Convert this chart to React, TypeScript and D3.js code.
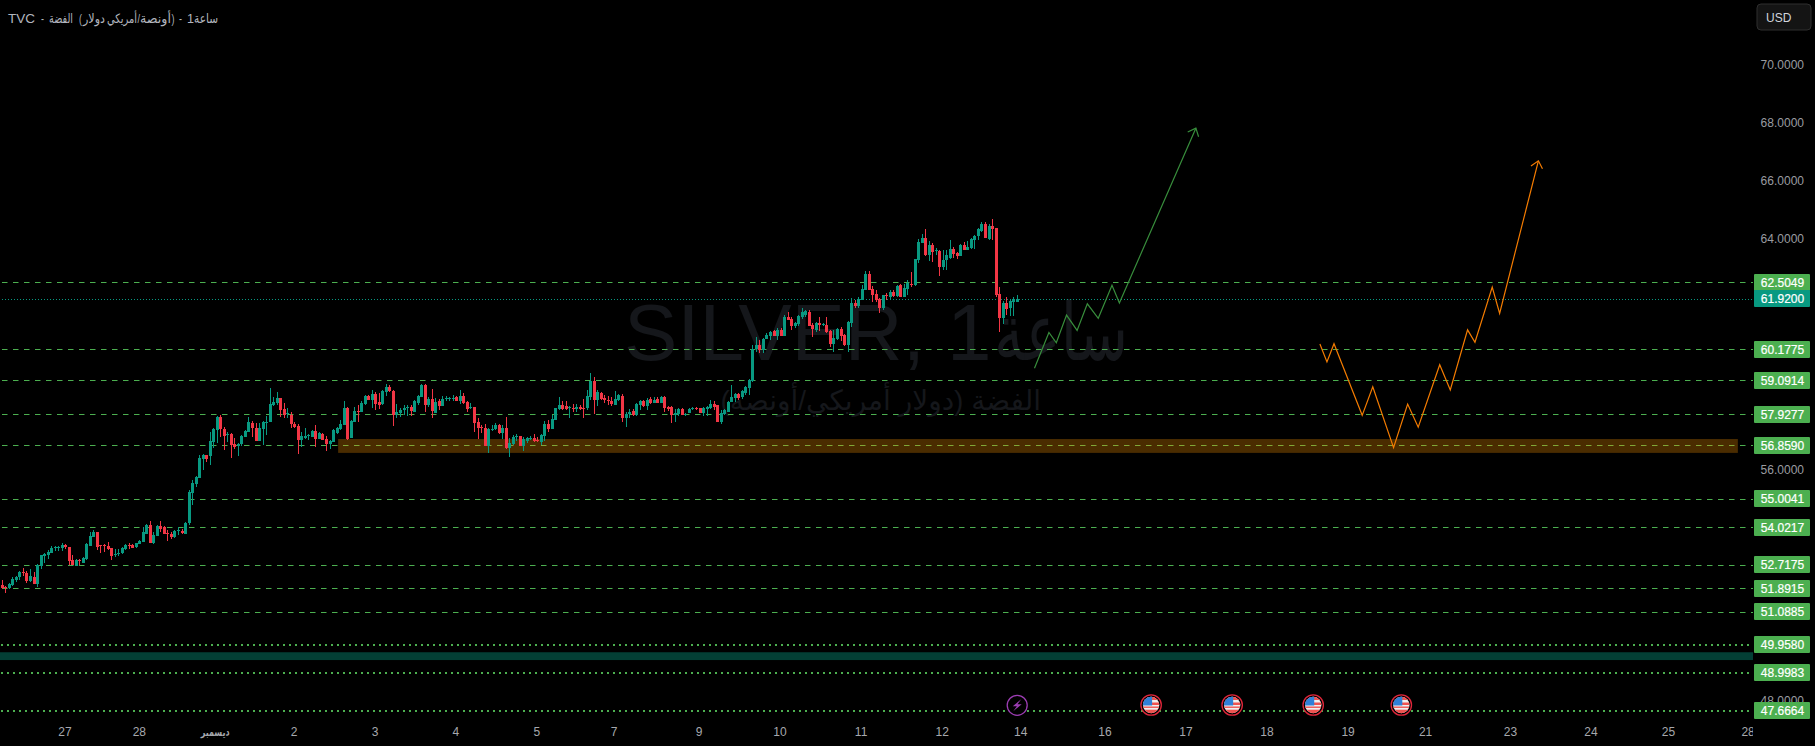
import React from "react";
import * as d3 from "d3";

const opens = [
52.03,51.96,51.91,52.03,52.19,52.30,52.48,52.44,52.16,52.30,
52.06,52.68,53.03,53.06,53.13,53.34,53.34,53.31,53.41,53.34,
52.89,52.69,52.90,52.79,52.93,53.38,53.69,53.86,53.40,53.40,
53.38,53.31,53.09,53.11,53.13,53.27,53.41,53.41,53.34,53.46,
53.51,53.79,54.10,53.48,53.72,54.07,54.03,53.83,53.81,53.69,
53.91,53.89,53.79,54.17,55.21,55.52,55.73,56.39,56.53,56.49,
56.98,57.39,57.84,57.43,57.24,57.25,56.91,56.84,56.91,57.15,
57.32,57.63,57.46,57.01,57.43,57.66,57.67,58.26,58.33,58.50,
58.12,57.94,57.92,57.60,57.53,57.05,57.11,57.19,57.15,57.36,
57.08,57.26,57.08,56.91,56.98,57.29,57.43,57.57,58.16,57.12,
57.67,58.05,58.02,58.30,58.57,58.43,58.64,58.37,58.30,58.71,
58.88,58.75,57.92,57.98,58.07,58.16,58.19,58.02,58.33,58.54,
58.95,58.26,58.47,57.98,58.40,58.22,58.48,58.48,58.49,58.54,
58.40,58.57,58.37,58.17,58.19,57.67,57.50,57.47,56.84,57.42,
57.43,57.57,57.29,57.47,56.77,56.91,57.16,57.18,56.84,57.02,
57.09,57.13,57.06,56.98,57.19,57.60,57.43,57.74,58.12,58.26,
58.23,58.18,58.15,58.12,58.19,58.17,58.16,58.54,59.09,58.43,
58.67,58.50,58.43,58.40,58.26,58.43,58.57,57.81,57.94,58.05,
57.92,58.26,58.40,58.23,58.46,58.33,58.45,58.33,58.54,58.18,
58.19,57.92,57.94,58.12,57.94,57.98,58.13,58.15,58.16,57.97,
58.13,58.16,58.30,58.26,57.67,57.95,58.02,58.36,58.50,58.64,
58.54,58.67,58.85,59.08,60.18,60.33,60.16,60.53,60.64,60.81,
60.66,60.85,60.64,61.31,61.23,60.99,61.06,61.29,61.37,61.47,
61.02,60.85,61.11,61.05,61.02,60.81,60.36,60.54,60.88,60.68,
60.33,61.09,61.78,61.68,61.89,62.23,62.79,62.27,62.10,61.92,
61.61,62.07,61.99,62.16,62.03,62.41,62.00,62.27,62.46,62.41,
63.27,63.86,64.03,63.45,63.79,63.60,63.58,63.03,63.27,63.34,
63.66,63.53,63.41,63.79,63.62,63.69,63.97,64.10,64.28,64.52,
64.00,64.45,64.38,62.10,61.26,61.78,61.61,61.83,61.82,
];
const closes = [
51.91,51.93,52.06,52.22,52.30,52.48,52.44,52.16,52.34,52.06,
52.72,53.06,53.10,53.17,53.31,53.35,53.35,53.41,53.34,52.86,
52.72,52.90,52.88,52.96,53.44,53.72,53.86,53.34,53.38,53.38,
53.28,53.03,53.10,53.13,53.31,53.41,53.38,53.31,53.47,53.55,
53.86,54.10,53.48,53.76,54.07,53.96,53.79,53.79,53.69,53.89,
53.92,53.83,54.17,55.24,55.56,55.76,56.42,56.53,56.39,57.01,
57.43,57.84,57.43,57.18,57.25,56.87,56.80,56.91,57.18,57.36,
57.67,57.46,57.01,57.46,57.67,57.67,58.29,58.37,58.50,58.09,
57.92,57.98,57.60,57.50,57.05,57.17,57.19,57.22,57.36,57.08,
57.29,57.05,56.91,57.02,57.40,57.47,57.60,58.16,57.08,57.71,
58.05,58.02,58.33,58.57,58.43,58.64,58.30,58.26,58.75,58.88,
58.75,57.92,58.02,58.09,58.16,58.19,58.05,58.40,58.57,58.95,
58.26,58.47,58.05,58.37,58.22,58.47,58.49,58.49,58.51,58.40,
58.57,58.33,58.12,58.19,57.64,57.47,57.45,56.84,57.43,57.43,
57.57,57.29,57.47,56.77,56.95,57.14,57.19,56.84,57.09,57.11,
57.11,57.02,57.04,57.22,57.60,57.43,57.78,58.16,58.26,58.12,
58.12,58.19,58.12,58.19,58.12,58.15,58.57,59.09,58.43,58.71,
58.47,58.43,58.40,58.30,58.47,58.61,57.81,57.95,58.02,57.92,
58.30,58.40,58.23,58.43,58.33,58.43,58.33,58.54,58.16,58.12,
57.92,57.98,58.11,57.92,57.96,58.12,58.15,58.13,57.97,58.16,
58.19,58.30,58.19,57.67,57.98,58.09,58.36,58.54,58.64,58.50,
58.74,58.88,59.12,60.21,60.33,60.16,60.53,60.68,60.78,60.64,
60.85,60.64,61.31,61.20,60.99,61.09,61.33,61.48,61.51,60.99,
60.88,61.11,61.02,61.07,60.78,60.36,60.57,60.88,60.64,60.33,
61.13,61.78,61.68,61.92,62.27,62.79,62.23,62.06,61.89,61.61,
62.06,62.04,62.16,62.03,62.37,61.99,62.31,62.48,62.44,63.31,
63.90,64.03,63.45,63.79,63.55,63.62,63.03,63.27,63.45,63.65,
63.48,63.43,63.79,63.62,63.72,64.00,64.10,64.35,64.52,64.03,
64.45,64.35,62.06,61.26,61.78,61.58,61.85,61.92,61.92,
];
const highs = [
52.20,51.99,52.08,52.31,52.34,52.52,52.60,52.52,52.58,52.48,
52.75,53.06,53.12,53.24,53.38,53.39,53.39,53.47,53.44,53.35,
53.06,52.93,52.94,52.98,53.47,53.86,53.93,53.86,53.42,53.43,
53.51,53.31,53.29,53.27,53.33,53.44,53.48,53.43,53.49,53.58,
54.03,54.14,54.24,53.87,54.10,54.24,54.07,53.93,53.85,53.92,
54.02,53.95,54.21,55.31,55.66,55.80,56.53,56.56,56.53,57.32,
57.45,57.88,57.91,57.50,57.32,57.28,57.11,56.94,57.22,57.39,
57.83,57.70,57.63,57.63,57.70,57.88,58.83,58.54,58.70,58.50,
58.33,58.15,58.01,57.67,57.59,57.33,57.47,57.26,57.40,57.57,
57.33,57.29,57.17,57.05,57.43,57.50,57.74,58.40,58.20,57.74,
58.19,58.26,58.40,58.61,58.61,58.78,58.70,58.67,58.78,58.98,
58.95,58.78,58.30,58.15,58.26,58.26,58.26,58.43,58.61,58.98,
58.99,58.54,58.81,58.49,58.47,58.57,58.57,58.54,58.61,58.57,
58.78,58.67,58.40,58.33,58.19,57.81,57.57,57.59,57.45,57.57,
57.64,57.60,57.57,57.85,57.10,57.22,57.26,57.18,57.14,57.16,
57.19,57.26,57.14,57.26,57.72,57.74,57.92,58.17,58.54,58.40,
58.38,58.23,58.30,58.30,58.26,58.47,58.78,59.36,59.23,58.78,
58.71,58.61,58.57,58.54,58.75,58.64,58.64,58.02,58.12,58.12,
58.32,58.43,58.43,58.50,58.54,58.54,58.54,58.57,58.57,58.23,
58.23,58.13,58.16,58.16,57.99,58.16,58.19,58.19,58.16,58.19,
58.23,58.43,58.40,58.26,58.09,58.12,58.40,58.95,58.67,58.67,
58.78,58.92,59.16,60.33,60.60,60.50,60.56,60.76,60.81,60.85,
60.91,60.93,61.37,61.48,61.31,61.14,61.37,61.63,61.54,61.54,
61.10,61.14,61.29,61.11,61.29,60.85,60.85,60.93,60.96,60.71,
61.17,61.95,61.89,62.00,62.41,62.89,62.89,62.37,62.23,61.96,
62.08,62.12,62.23,62.23,62.41,62.46,62.46,62.58,62.86,63.31,
64.00,64.17,64.35,63.93,63.85,63.69,63.62,63.62,63.62,63.97,
63.71,63.57,63.83,63.89,63.93,64.03,64.14,64.38,64.59,64.59,
64.52,64.69,64.38,62.33,61.85,62.01,61.89,62.00,62.06,
];
const lows = [
51.88,51.76,51.88,51.99,52.14,52.20,52.34,52.11,52.14,52.06,
51.97,52.58,52.78,52.93,53.12,53.20,53.20,53.20,53.27,52.71,
52.71,52.68,52.71,52.78,52.91,53.38,53.69,53.24,53.13,53.17,
53.24,52.89,52.99,53.03,53.10,53.24,53.27,53.31,53.31,53.44,
53.51,53.79,53.47,53.44,53.72,53.86,53.79,53.55,53.61,53.65,
53.76,53.79,53.79,54.10,54.79,55.43,55.73,56.01,56.28,56.18,
56.77,56.94,57.15,56.70,56.98,56.42,56.73,56.49,56.84,57.15,
57.32,57.15,57.01,57.01,56.87,57.22,57.67,58.24,58.26,57.85,
57.80,57.80,57.47,57.47,56.57,56.81,57.07,57.04,57.15,56.81,
57.08,57.05,56.67,56.74,56.98,57.26,57.40,57.57,57.05,57.11,
57.67,57.67,58.02,58.26,58.43,58.17,58.09,58.12,58.26,58.57,
58.71,57.53,57.81,57.85,57.92,57.89,57.89,58.02,58.26,58.54,
58.02,58.19,57.81,57.98,58.09,58.22,58.40,58.40,58.40,58.39,
58.30,58.30,58.02,58.12,57.33,57.08,57.29,56.84,56.60,57.36,
57.40,57.26,57.08,56.73,56.46,56.88,57.02,56.84,56.67,56.93,
57.03,56.97,56.97,56.88,57.02,57.34,57.43,57.74,58.09,58.09,
58.09,57.81,58.03,58.03,58.07,57.81,58.09,58.43,57.94,58.23,
58.43,58.32,58.26,58.23,58.26,58.40,57.67,57.50,57.81,57.88,
57.88,58.09,58.19,58.09,58.30,58.33,58.33,58.33,58.02,58.05,
57.64,57.67,57.88,57.92,57.88,57.98,58.09,58.07,57.97,57.88,
57.88,58.13,58.09,57.67,57.60,57.92,58.02,58.36,58.36,58.43,
58.48,58.61,58.61,59.06,60.10,60.06,60.06,60.53,60.50,60.64,
60.50,60.64,60.64,61.20,60.87,60.94,60.99,61.25,61.29,60.99,
60.62,60.79,60.83,60.99,60.76,60.27,60.10,60.50,60.48,60.30,
60.10,60.96,61.62,61.63,61.89,62.23,62.23,61.83,61.83,61.45,
61.54,61.89,61.93,61.98,61.98,61.99,61.99,62.06,62.33,62.37,
63.16,63.86,63.41,63.24,63.20,63.45,62.72,62.93,62.93,63.31,
63.34,63.30,63.41,63.62,63.62,63.65,63.65,63.97,64.24,64.03,
63.97,63.97,62.00,60.78,61.06,61.37,61.34,61.34,61.82,
];

const priceTicks = [70, 68, 66, 64, 56, 48];
const dashedLevels = [62.5049, 60.1775, 59.0914, 57.9277, 56.859, 55.0041, 54.0217, 52.7175, 51.8915, 51.0885];
const dottedLevels = [49.958, 48.9983, 47.6664];
const lastPrice = 61.92;

const timeTickBars = [17.8, 38.9, 60.4, 82.8, 105.8, 128.7, 151.7, 173.6, 197.7, 220.7, 243.7, 266.7, 289, 312.9, 335.9, 358.9, 381.9, 403.9, 428, 450.8, 472.8, 495.4];
const timeTickLabels = ["27", "28", "ديسمبر", "2", "3", "4", "5", "7", "9", "10", "11", "12", "14", "16", "17", "18", "19", "21", "23", "24", "25", "28"];

const titleWords = ["TVC", "-", "الفضة", "(", "دولار", "أمريكي", "/", "أونصة", ")", "-", "1", "ساعة"];
const titleStarts = [8, 41, 49, 79, 83, 107, 137.5, 140, 171.5, 179, 187, 194];
const titleWidths = [27, 3, 24, 3, 22, 30, 2.5, 31, 3, 3, 7, 24];

const greenPathBars = [292.9, 297, 299.1, 302, 305, 307.9, 311, 314.9, 317, 338.7];
const greenPathPrices = [59.53, 60.77, 60.41, 61.37, 60.84, 61.76, 61.26, 62.4, 61.79, 67.84];
const orangePathBars = [373.9, 375.9, 377.9, 385.9, 388.9, 394.8, 398.8, 401.8, 407.9, 410.9, 415.8, 417.9, 422.8, 424.9, 435.9];
const orangePathPrices = [60.37, 59.75, 60.38, 57.9, 58.89, 56.78, 58.29, 57.49, 59.65, 58.78, 60.86, 60.43, 62.34, 61.43, 66.71];

const zoneBars = [95.3, 492.5];
const zonePrices = [57.08, 56.6];
const bandPrices = [49.7, 49.43];

const boltEventBars = [288];
const flagEventBars = [326, 349, 372, 397];

const WIDTH = 1815;
const HEIGHT = 746;
const PLOT_RIGHT = 1753;
const FONT = "'Liberation Sans', 'DejaVu Sans', sans-serif";
const UP = "#089981";
const DOWN = "#f23645";
const LEVEL = "#4caf50";

const x = d3.scaleLinear().domain([0, 288]).range([2.3, 1017.2]);
const y = d3.scaleLinear().domain([62.5049, 47.6664]).range([282.3, 711]);

function Path({ bars, prices, color }: { bars: number[]; prices: number[]; color: string }) {
  const pts = bars.map((b, i) => [x(b), y(prices[i])] as [number, number]);
  const line = d3.line();
  const [a, b] = pts.slice(-2);
  const ang = Math.atan2(b[1] - a[1], b[0] - a[0]);
  const wing = (d: number): [number, number] => [b[0] - 9 * Math.cos(ang + d), b[1] - 9 * Math.sin(ang + d)];
  return (
    <g fill="none" stroke={color} strokeWidth={1.2}>
      <path d={line(pts) || ""} />
      <path d={line([wing(0.72), b, wing(-0.72)]) || ""} />
    </g>
  );
}

function Flag({ cx, cy, id }: { cx: number; cy: number; id: string }) {
  return (
    <g>
      <circle cx={cx} cy={cy} r={10.2} fill="#000" stroke="#e0263a" strokeWidth={1.3} />
      <clipPath id={id}><circle cx={cx} cy={cy} r={8.2} /></clipPath>
      <g clipPath={`url(#${id})`}>
        <rect x={cx - 9} y={cy - 9} width={18} height={18} fill="#f0f0f0" />
        <rect x={cx - 9} y={cy - 9} width={18} height={4} fill="#ef5350" />
        <rect x={cx - 9} y={cy - 2.5} width={18} height={2.5} fill="#ef5350" />
        <rect x={cx - 9} y={cy + 1.5} width={18} height={1.4} fill="#ef5350" />
        <rect x={cx - 9} y={cy + 4.7} width={18} height={5} fill="#ef5350" />
        <rect x={cx - 9} y={cy - 9} width={10} height={9.5} fill="#2f80d8" />
      </g>
    </g>
  );
}

function Bolt({ cx, cy }: { cx: number; cy: number }) {
  return (
    <g>
      <circle cx={cx} cy={cy} r={10} fill="#000" stroke="#9c3db3" strokeWidth={1.3} />
      <path d={`M${cx + 4} ${cy - 6} L${cx - 4.5} ${cy + 1} L${cx - 0.3} ${cy + 1} L${cx - 4} ${cy + 6} L${cx + 4.5} ${cy - 1} L${cx + 0.3} ${cy - 1} Z`} fill="#9c3db3" />
    </g>
  );
}

export default function App() {
  const bandTop = y(bandPrices[0]);
  const bandBot = y(bandPrices[1]);
  const labelRow = (p: number, bg: string) => {
    const cy = y(p);
    return (
      <g key={`l${p}`}>
        <rect x={1754} y={Math.round(cy - 8.8)} width={56} height={17} rx={1} fill={bg} />
        <text x={1782.5} y={Math.round(cy - 8.8) + 12.8} textAnchor="middle" fontSize={12} fill="#ffffff" stroke="#ffffff" strokeWidth={0.2}>{p.toFixed(4)}</text>
      </g>
    );
  };
  return (
    <svg width={WIDTH} height={HEIGHT} viewBox={`0 0 ${WIDTH} ${HEIGHT}`} style={{ position: "absolute", left: 0, top: 0, display: "block", background: "#000" }} fontFamily={FONT}>
      <defs>
        <clipPath id="plot"><rect x={0} y={0} width={PLOT_RIGHT} height={HEIGHT} /></clipPath>
      </defs>
      <rect width={WIDTH} height={HEIGHT} fill="#000" />

      <text x={624} y={360} fontSize={80} fill="#15171b">SILVER, 1</text>
      <text x={994} y={360} fontSize={80} fill="#15171b" textLength={134} lengthAdjust="spacingAndGlyphs">ساعة</text>
      <text x={1041} y={410} fontSize={28} textAnchor="end" fill="#15171b">الفضة (دولار أمريكي/أونصة)</text>

      <rect x={0} y={bandTop} width={PLOT_RIGHT} height={bandBot - bandTop} fill="#033f35" />

      {dashedLevels.map((p) => (
        <line key={p} x1={2} x2={PLOT_RIGHT} y1={Math.floor(y(p)) + 0.5} y2={Math.floor(y(p)) + 0.5} stroke={LEVEL} strokeWidth={1} strokeDasharray="5.5 5.5" />
      ))}
      {dottedLevels.map((p) => (
        <line key={p} x1={1} x2={PLOT_RIGHT} y1={Math.round(y(p))} y2={Math.round(y(p))} stroke={LEVEL} strokeWidth={2} strokeDasharray="2 4" />
      ))}
      <line x1={2} x2={PLOT_RIGHT} y1={Math.floor(y(lastPrice)) + 0.5} y2={Math.floor(y(lastPrice)) + 0.5} stroke={UP} strokeWidth={1} strokeDasharray="1 2" />

      <rect x={x(zoneBars[0])} y={y(zonePrices[0])} width={x(zoneBars[1]) - x(zoneBars[0])} height={y(zonePrices[1]) - y(zonePrices[0])} fill="rgb(255,152,0)" fillOpacity={0.29} />

      <g shapeRendering="crispEdges">
        {closes.map((c, i) => {
          const col = c >= opens[i] ? UP : DOWN;
          const cx = Math.floor(x(i));
          const top = Math.round(y(Math.max(opens[i], c)));
          const bot = Math.round(y(Math.min(opens[i], c)));
          const hi = Math.round(y(highs[i]));
          const lo = Math.round(y(lows[i]));
          return (
            <g key={i} fill={col}>
              <rect x={cx} y={hi} width={1} height={Math.max(1, lo - hi)} />
              <rect x={cx - 1} y={top} width={3} height={Math.max(1, bot - top)} />
            </g>
          );
        })}
      </g>

      <Path bars={greenPathBars} prices={greenPathPrices} color="#388e3c" />
      <Path bars={orangePathBars} prices={orangePathPrices} color="#f57c00" />

      {boltEventBars.map((b) => <Bolt key={b} cx={x(b)} cy={705.3} />)}
      {flagEventBars.map((b) => <Flag key={b} cx={x(b)} cy={705} id={`f${b}`} />)}

      {titleWords.map((t, i) => (
        <text key={i} x={titleStarts[i]} y={22.5} fontSize={13} fill="#b2b5be" textLength={titleWidths[i]} lengthAdjust="spacingAndGlyphs">{t}</text>
      ))}

      <g clipPath="url(#plot)">
        {timeTickLabels.map((t, i) =>
          i === 2 ? (
            <text key={i} x={x(timeTickBars[i]) - 14.5} y={736} fontSize={11} fontWeight={700} fill="#a6a8ad" textLength={29} lengthAdjust="spacingAndGlyphs">{t}</text>
          ) : (
            <text key={i} x={x(timeTickBars[i])} y={736} textAnchor="middle" fontSize={12} fill="#a6a8ad">{t}</text>
          )
        )}
      </g>

      {priceTicks.map((p) => (
        <text key={p} x={1804} y={y(p) + 3.7} textAnchor="end" fontSize={12} fill="#9a9ca1">{p.toFixed(4)}</text>
      ))}

      {dashedLevels.map((p) => labelRow(p, LEVEL))}
      {labelRow(lastPrice, UP)}
      {dottedLevels.map((p) => labelRow(p, LEVEL))}

      <rect x={1757} y={4} width={54} height={26} rx={4} fill="#141414" stroke="#2e2e2e" strokeWidth={1} />
      <text x={1766} y={21.5} fontSize={12} fill="#d1d4dc">USD</text>
    </svg>
  );
}
